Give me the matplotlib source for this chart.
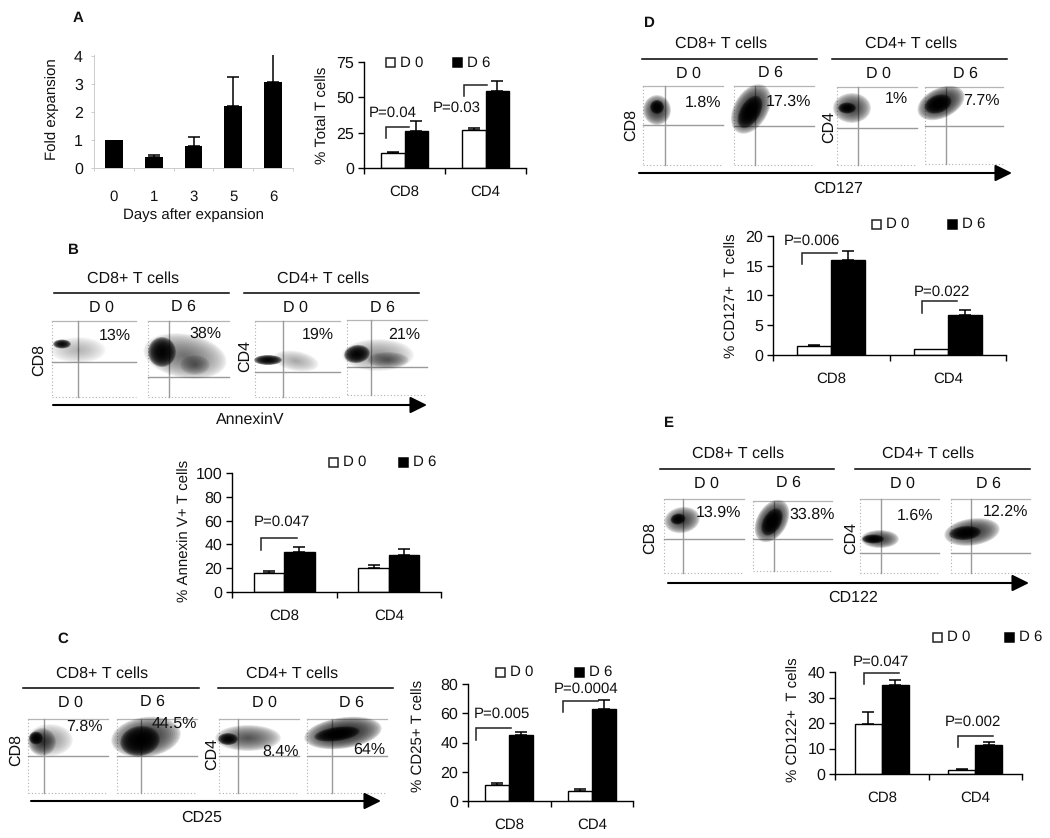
import matplotlib
matplotlib.use("Agg")
import matplotlib.pyplot as plt
from matplotlib.patches import Ellipse, Rectangle

W, H = 1050, 838
plt.rcParams['font.family'] = ['Liberation Sans', 'DejaVu Sans']
plt.rcParams['font.size'] = 11
plt.rcParams['text.hinting'] = 'no_hinting'
plt.rcParams['text.hinting_factor'] = 1

# ---------- values ----------
days = ['0', '1', '3', '5', '6']
fold = [1.0, 0.4, 0.8, 2.2, 3.05]
fold_err = [0, 0.08, 0.3, 1.05, 1.2]

groups = ['CD8', 'CD4']
total_d0 = [10.5, 27]
total_d6 = [26, 54.5]
total_e0 = [1, 1]
total_e6 = [7, 7]
annex_d0 = [16, 20]
annex_d6 = [34, 31]
annex_e0 = [1.5, 2.5]
annex_e6 = [4, 5]
cd25_d0 = [11, 7]
cd25_d6 = [45, 63]
cd25_e0 = [1, 1]
cd25_e6 = [2, 6]
cd127_d0 = [1.5, 1]
cd127_d6 = [16, 6.7]
cd127_e0 = [0.2, 0]
cd127_e6 = [1.4, 0.9]
cd122_d0 = [19.5, 1.7]
cd122_d6 = [35, 11.5]
cd122_e0 = [5, 0.4]
cd122_e6 = [1.7, 1]

fig = plt.figure(figsize=(W / 100, H / 100), dpi=100, facecolor='white')
ov = fig.add_axes([0, 0, 1, 1], zorder=5)
ov.set_xlim(0, W); ov.set_ylim(H, 0); ov.axis('off'); ov.patch.set_alpha(0)


def T(x, y, s, size=11, rot=0, weight='normal'):
    ov.text(x, y, s, ha='center', va='center', fontsize=size, rotation=rot,
            rotation_mode='anchor', fontweight=weight, color='#111111', zorder=6)


def box(l, t, r, b):
    return fig.add_axes([l / W, 1 - b / H, (r - l) / W, (b - t) / H])


def ylab(ax, s, x, y):
    ax.set_ylabel(s, fontsize=11, va='center', color='#111111')
    ax.yaxis.set_label_coords(x, y, transform=ov.transData)


def bars(l, t, r, b, ymax, yticks, d0, d6, e0, e6, ylabel, ylx, yly):
    ax = box(l, t, r, b)
    ax.set_xlim(0, 2); ax.set_ylim(0, ymax)
    xs = [0.5, 1.5]
    w = 0.29
    for i, x in enumerate(xs):
        ax.bar(x - w / 2, d0[i], w, color='white', edgecolor='black', lw=1.0)
        ax.bar(x + w / 2, d6[i], w, color='black', edgecolor='black', lw=1.0)
        if e0[i]:
            ax.errorbar(x - w / 2, d0[i], yerr=[[0], [e0[i]]], color='black', capsize=4.2, lw=1.1, capthick=1.1)
        if e6[i]:
            ax.errorbar(x + w / 2, d6[i], yerr=[[0], [e6[i]]], color='black', capsize=4.2, lw=1.1, capthick=1.1)
    for s in ('top', 'right'):
        ax.spines[s].set_visible(False)
    ax.spines['left'].set_linewidth(1.0)
    ax.spines['bottom'].set_linewidth(1.0)
    ax.set_yticks(yticks)
    ax.tick_params(axis='y', length=4, width=1.0, pad=3, labelsize=11.5, labelcolor='#111111')
    ax.set_xticks([0, 1, 2]); ax.set_xticklabels([])
    ax.tick_params(axis='x', which='major', length=4, width=1.0)
    ax.set_xticks(xs, minor=True); ax.set_xticklabels(groups, minor=True)
    ax.tick_params(axis='x', which='minor', length=0, pad=12.5, labelsize=10.5, labelcolor='#111111')
    ylab(ax, ylabel, ylx, yly)
    ax.patch.set_alpha(0)
    return ax


def legend(xw, xk, y):
    ov.add_patch(Rectangle((xw - 4.5, y - 4.5), 9, 9, fc='white', ec='#222222', lw=1.1))
    ov.add_patch(Rectangle((xk - 4.5, y - 4.5), 9, 9, fc='black', ec='black', lw=1.1))
    T(xw + 22, y, 'D 0')
    T(xk + 22, y, 'D 6')


def pval(s, x, y, l, r, ylow, ytop):
    T(x, y, s)
    ov.plot([l, l, r], [ylow, ytop, ytop], color='#222222', lw=1.1, solid_joinstyle='miter')


def blob(cx, cy, w, h, ang, dark, layers=16):
    # soft cloud made of nested ellipses (stands in for the cytometry dots)
    dark = min(dark, 0.97)
    a = 1 - (1 - dark) ** (1 / layers)
    for k in range(layers):
        f = 1 - (k / layers) ** 1.3
        ov.add_patch(Ellipse((cx, cy), w * f, h * f, angle=-ang, fc='black', ec='none',
                             alpha=a, zorder=2))


def flow(l, t, r, b, v, h, clouds):
    c = '#9a9a9a'
    ov.plot([l, r], [t, t], color='#b5b5b5', lw=0.9, zorder=1)
    ov.plot([l, l], [t, b], color='#b0b0b0', lw=0.8, ls=(0, (1, 2)), zorder=1)
    ov.plot([l, r], [b, b], color='#b0b0b0', lw=0.8, ls=(0, (1, 2)), zorder=1)
    ov.plot([v, v], [t, b], color=c, lw=1.0, zorder=1)
    ov.plot([l, r], [h, h], color=c, lw=1.0, zorder=1)
    for cl in clouds:
        blob(*cl)


def panel(headers, rules, rule_y, heads, dd, pcts, rows, panels, arrow, xlabel):
    for (x, s) in zip(headers[0], ['CD8+ T cells', 'CD4+ T cells']):
        T(x, headers[1], s, 11.3)
    for a, b_ in rules:
        ov.plot([a, b_], [rule_y, rule_y], color='black', lw=1.1)
    for (x, y), s in zip(dd, ['D 0', 'D 6', 'D 0', 'D 6']):
        T(x, y, s, 11.3)
    for x, y, s in pcts:
        T(x, y, s, 11.3)
    for x, y, s in rows:
        T(x, y, s, 11.3, rot=90)
    for p in panels:
        flow(*p)
    x0, x1, y = arrow
    ov.annotate('', xy=(x1, y), xytext=(x0, y),
                arrowprops=dict(arrowstyle='-|>,head_width=0.42,head_length=0.85', color='black', lw=1.5,
                                shrinkA=0, shrinkB=0, mutation_scale=12))
    T(*xlabel, 11.3)


# ---------- panel A ----------
T(78, 18, 'A', 10.5, weight='bold')
axA = box(94, 55, 293, 168)
axA.set_xlim(-0.5, 4.5); axA.set_ylim(0, 4.03)
axA.bar(range(5), fold, 0.45, color='black')
for i in range(1, 5):
    axA.errorbar(i, fold[i], yerr=[[0], [fold_err[i]]], color='black', capsize=4.2, lw=1.1, capthick=1.1)
for s in ('top', 'right'):
    axA.spines[s].set_visible(False)
axA.spines['left'].set_color('#cccccc'); axA.spines['bottom'].set_color('#cccccc')
axA.spines['left'].set_linewidth(0.7); axA.spines['bottom'].set_linewidth(0.7)
axA.set_yticks([0, 1, 2, 3, 4])
axA.tick_params(axis='y', length=2, width=0.7, color='#cccccc', pad=6, labelsize=11.5, labelcolor='#111111')
axA.set_xticks([-0.5, 0.5, 1.5, 2.5, 3.5, 4.5]); axA.set_xticklabels([])
axA.tick_params(axis='x', which='major', length=2, width=0.7, color='#cccccc')
axA.set_xticks(range(5), minor=True); axA.set_xticklabels(days, minor=True)
axA.tick_params(axis='x', which='minor', length=0, pad=16, labelsize=11, labelcolor='#111111')
axA.patch.set_alpha(0)
ylab(axA, 'Fold expansion', 52, 109)
T(193, 215, 'Days after expansion')

bars(364, 62, 526, 168, 75, [0, 25, 50, 75], total_d0, total_d6, total_e0, total_e6, '% Total T cells', 323, 115)
legend(390, 457, 63)
pval('P=0.04', 393, 113, 386, 409, 138, 127)
pval('P=0.03', 457, 108, 464, 487, 96, 85)

# ---------- panel B ----------
T(73, 250, 'B', 10.5, weight='bold')
panel(([133, 323], 279), [(54, 229), (244, 419)], 293, None,
      [(101, 308), (183, 307), (295, 308), (382, 308)],
      [(115, 336, '13%'), (205, 334, '38%'), (318, 335, '19%'), (404, 335, '21%')],
      [(39, 360, 'CD8'), (245, 356, 'CD4')],
      [(52, 321, 136, 397, 78, 362, [(78, 350, 56, 26, 0, 0.25), (62, 344, 18, 9, 0, 0.95)]),
       (148, 321, 229, 397, 169, 377, [(185, 356, 84, 44, -10, 0.55), (195, 365, 30, 20, 0, 0.45), (162, 352, 28, 30, 0, 0.97)]),
       (255, 321, 340, 397, 283, 372, [(296, 361, 46, 20, -10, 0.30), (268, 360, 28, 10, 0, 0.97)]),
       (347, 320, 427, 395, 371, 367, [(378, 355, 72, 32, 0, 0.40), (388, 360, 42, 16, 0, 0.50), (357, 354, 26, 18, 8, 0.97)])],
      (53, 427, 405), (250, 420, 'AnnexinV'))

bars(232, 473, 441, 592, 100, [0, 20, 40, 60, 80, 100], annex_d0, annex_d6, annex_e0, annex_e6, '% Annexin V+ T cells', 185, 531)
legend(333, 403, 462)
pval('P=0.047', 282, 522, 261, 297, 550, 538)

# ---------- panel C ----------
T(63, 639, 'C', 10.5, weight='bold')
panel(([102, 292], 674), [(23, 199), (218, 393)], 688, None,
      [(70, 703), (152, 702), (264, 703), (351, 703)],
      [(84, 727, '7.8%'), (174, 724, '44.5%'), (281, 752, '8.4%'), (369, 750, '64%')],
      [(16, 750, 'CD8'), (212, 754, 'CD4')],
      [(28, 719, 108, 793, 44, 756, [(50, 740, 46, 32, 0, 0.40), (42, 742, 28, 28, 0, 0.70), (36, 738, 14, 13, 0, 0.97)]),
       (117, 719, 197, 793, 141, 756, [(146, 737, 70, 40, 8, 0.80), (140, 741, 40, 30, 10, 0.97)]),
       (219, 719, 299, 793, 238, 756, [(248, 738, 66, 26, 0, 0.65), (228, 739, 20, 12, 0, 0.97)]),
       (307, 719, 387, 793, 332, 756, [(343, 733, 78, 31, 8, 0.85), (337, 734, 46, 14, 8, 0.97)])],
      (31, 381, 801), (202, 818, 'CD25'))

bars(468, 684, 633, 801, 80, [0, 20, 40, 60, 80], cd25_d0, cd25_d6, cd25_e0, cd25_e6, '% CD25+ T cells', 419, 736)
legend(500, 579, 672)
pval('P=0.005', 502, 714, 476, 511, 740, 728)
pval('P=0.0004', 586, 689, 563, 598, 712, 701)

# ---------- panel D ----------
T(649, 23, 'D', 10.5, weight='bold')
panel(([721, 911], 44), [(642, 817), (832, 1007)], 59, None,
      [(688, 74), (770, 73), (878, 74), (965, 74)],
      [(703, 103, '1.8%'), (788, 102, '17.3%'), (896, 99, '1%'), (981, 101, '7.7%')],
      [(631, 125, 'CD8'), (829, 127, 'CD4')],
      [(643, 86, 723, 165, 665, 125, [(657, 110, 28, 30, 0, 0.80), (657, 107, 14, 14, 0, 0.97)]),
       (734, 86, 814, 165, 755, 126, [(751, 109, 54, 34, 60, 0.85), (750, 112, 36, 20, 60, 0.97)]),
       (837, 87, 917, 165, 858, 128, [(852, 108, 38, 30, 0, 0.75), (847, 108, 18, 11, 0, 0.97)]),
       (925, 87, 1003, 164, 946, 126, [(941, 103, 50, 30, 25, 0.85), (938, 104, 28, 18, 20, 0.97)])],
      (639, 1012, 173), (838, 189, 'CD127'))

bars(773, 236, 1006, 355, 20, [0, 5, 10, 15, 20], cd127_d0, cd127_d6, cd127_e0, cd127_e6, '% CD127+  T cells', 732, 296)
legend(876, 952, 224)
pval('P=0.006', 812, 241, 802, 837, 264, 253)
pval('P=0.022', 942, 292, 922, 957, 313, 301)

# ---------- panel E ----------
T(669, 423, 'E', 10.5, weight='bold')
panel(([738, 928], 454), [(660, 834), (855, 1030)], 469, None,
      [(706, 484), (788, 483), (902, 484), (988, 484)],
      [(718, 513, '13.9%'), (812, 515, '33.8%'), (915, 516, '1.6%'), (1005, 512, '12.2%')],
      [(650, 538, 'CD8'), (851, 538, 'CD4')],
      [(664, 499, 744, 573, 683, 539, [(682, 520, 36, 26, 10, 0.75), (678, 519, 15, 11, 10, 0.97)]),
       (753, 501, 832, 571, 774, 539, [(772, 521, 46, 30, 60, 0.85), (772, 522, 30, 18, 60, 0.97)]),
       (860, 499, 939, 573, 881, 553, [(880, 539, 38, 18, 0, 0.75), (873, 539, 22, 9, 0, 0.97)]),
       (951, 499, 1030, 573, 971, 553, [(972, 532, 56, 27, 8, 0.80), (965, 533, 32, 14, 5, 0.97)])],
      (668, 1029, 583), (853, 598, 'CD122'))

bars(835, 672, 1022, 774, 40, [0, 10, 20, 30, 40], cd122_d0, cd122_d6, cd122_e0, cd122_e6, '% CD122+  T cells', 794, 720)
legend(937, 1009, 637)
pval('P=0.047', 881, 662, 864, 899, 684, 673)
pval('P=0.002', 973, 722, 958, 993, 747, 736)

fig.savefig('out.png', dpi=100)
